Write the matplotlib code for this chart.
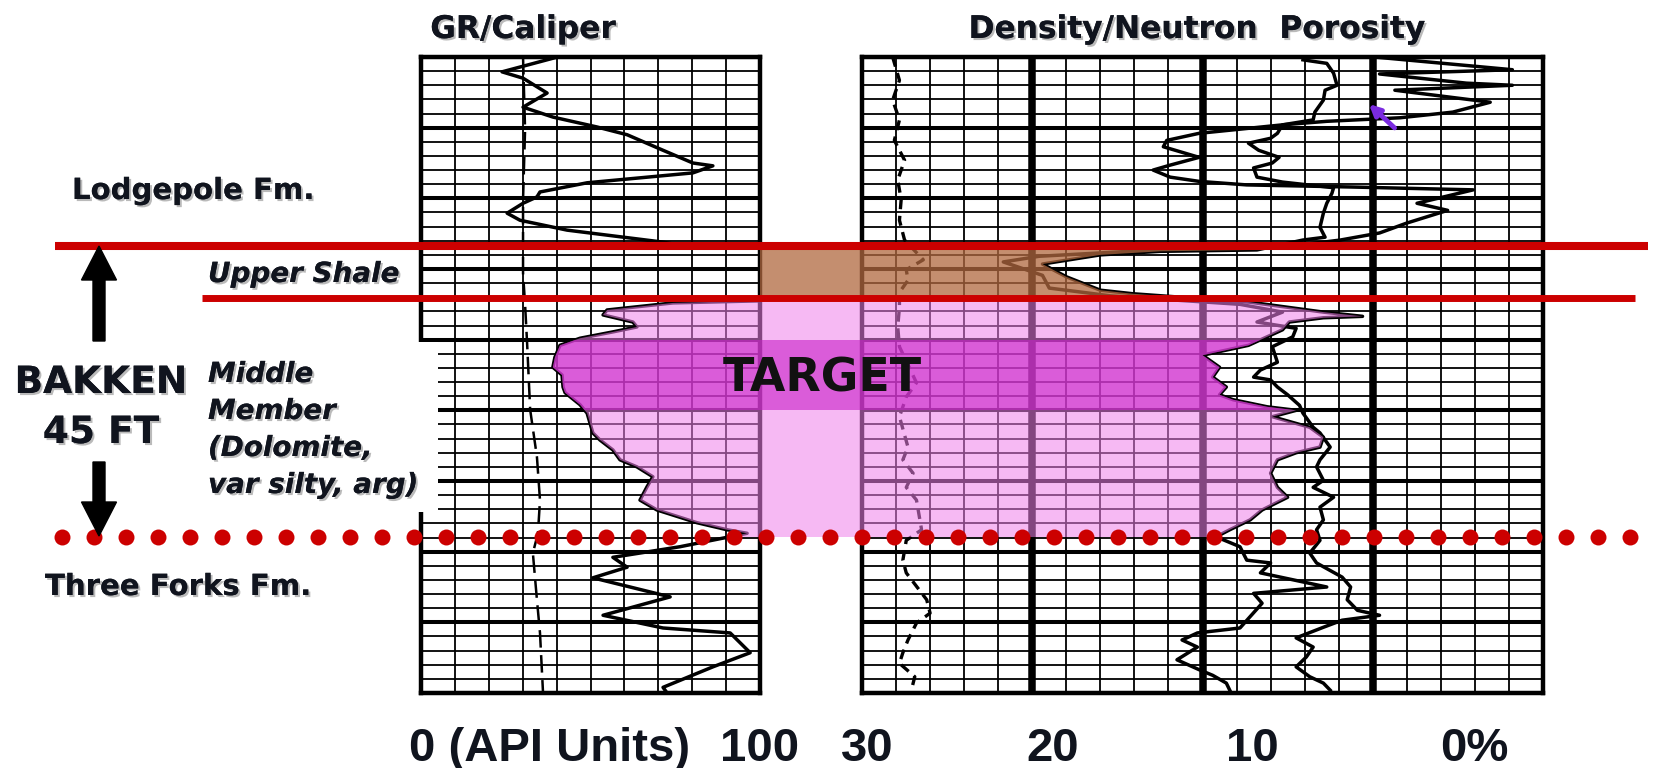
import numpy as np
import matplotlib
matplotlib.use("Agg")
import matplotlib.pyplot as plt
import matplotlib.patheffects as pe
from matplotlib.patches import Polygon, Rectangle, FancyArrow

# depth is in ft below the top of the plotted interval (10 ft per heavy line)

# gamma ray, API (values past 100 run off the track and get clipped)
gr_depth = [0.1, 2.1, 3.0, 5.1, 7.1, 8.5, 9.9, 11.0, 13.2, 15.0, 15.4, 16.4, 17.8, 19.1,
            19.8, 20.7, 22.1, 23.1, 24.5, 26.2, 26.9, 27.3, 34.1, 34.8, 35.8, 36.5, 37.5,
            38.2, 38.9, 39.8, 40.8, 42.5, 43.9, 45.0, 46.7, 47.5, 49.2, 50.4, 53.2, 54.2,
            55.6, 57.0, 58.0, 59.4, 60.8, 62.7, 64.1, 65.9, 66.9, 67.4, 69.3, 70.8, 72.2,
            73.7, 76.4, 79.0, 80.8, 81.5, 84.3, 86.3, 89.2, 90.0]
gr_api = [39.5, 23.9, 30.1, 37.2, 30.1, 38.9, 51.9, 60.8, 71.4, 80.2, 86.1, 80.2, 49.0, 35.1,
          34.2, 30.1, 25.4, 29.2, 43.1, 71.4, 79.1, 135.0, 135.0, 74.3, 54.9, 53.7, 62.5,
          63.7, 56.6, 46.9, 41.0, 39.5, 38.9, 41.6, 41.9, 42.5, 46.9, 49.0, 50.7, 52.8,
          56.6, 58.7, 63.7, 68.4, 66.7, 64.6, 69.6, 81.4, 90.3, 96.2, 76.4, 56.6, 60.8,
          50.7, 73.5, 53.7, 71.4, 91.2, 97.1, 86.1, 71.4, 72.6]

# caliper, drawn on the GR scale
cal_depth = [0.0, 10.3, 20.2, 30.6, 35.0, 40.5, 49.9, 56.6, 62.7, 67.4, 70.2, 76.8, 81.5, 90.0]
cal = [30.1, 30.7, 30.1, 30.1, 30.7, 31.3, 32.2, 34.2, 35.1, 34.5, 33.0, 34.2, 35.1, 36.0]

# dashed correction curve, porosity units
corr_depth = [0.0, 3.3, 6.1, 8.9, 11.8, 14.6, 17.4, 20.2, 23.1, 25.9, 28.7, 30.1, 31.6, 33.3,
              35.4, 38.2, 41.0, 46.1, 48.1, 50.9, 55.2, 57.0, 58.9, 60.9, 62.7, 66.9, 68.4,
              71.2, 73.0, 76.8, 78.7, 80.1, 82.5, 84.3, 85.8, 87.7, 89.6]
corr_por = [28.2, 27.8, 28.2, 27.8, 28.1, 27.5, 27.9, 27.7, 27.8, 27.5, 26.4, 27.4, 27.3, 27.8,
            27.8, 27.9, 27.8, 26.8, 27.4, 27.8, 27.3, 27.6, 27.0, 27.4, 26.8, 26.5, 27.4,
            27.6, 27.4, 26.2, 26.0, 26.8, 27.3, 27.6, 27.8, 26.9, 27.1]

# density porosity, %
dphi_depth = [0.4, 0.9, 2.3, 4.0, 4.7, 6.1, 7.8, 8.9, 9.6, 10.8, 11.5, 12.2, 13.2, 14.2, 15.0,
              15.7, 17.0, 17.7, 18.5, 19.3, 20.7, 22.1, 24.1, 25.5, 25.9, 27.3, 27.5, 28.0,
              29.3, 31.1, 33.0, 33.5, 34.7, 36.1, 36.7, 36.9, 37.5, 38.6, 40.8, 42.2, 43.9,
              45.3, 46.7, 47.8, 48.5, 49.5, 50.0, 50.9, 52.4, 53.8, 55.2, 56.0, 57.0, 58.9,
              60.9, 62.3, 64.1, 65.5, 66.9, 67.9, 69.3, 71.2, 71.6, 73.0, 75.0, 75.9, 77.3,
              80.8, 81.5, 82.5, 83.5, 85.3, 86.7, 87.5, 88.6, 89.6]
dphi = [4.1, 2.7, 2.3, 2.1, 2.8, 2.9, 3.4, 3.5, 5.3, 5.6, 6.0, 7.3, 6.7, 5.5, 5.9,
        7.0, 6.8, 5.3, 2.3, 2.4, 2.7, 2.9, 3.1, 2.8, 4.1, 6.8, 12.5, 16.0,
        19.4, 18.0, 16.0, 14.1, 7.2, 2.9, 0.6, 2.9, 4.9, 5.3, 7.3, 10.0, 9.0,
        9.4, 8.6, 9.0, 8.2, 6.2, 4.5, 5.9, 3.7, 2.9, 3.1, 4.5, 5.6, 6.0,
        5.6, 5.0, 6.5, 7.2, 8.4, 9.2, 7.8, 7.4, 6.0, 6.6, 2.7, 7.0, 6.5,
        7.8, 10.3, 11.2, 10.3, 11.5, 10.2, 9.4, 8.6, 8.4]

# neutron porosity, %
nphi_depth = [0.0, 1.8, 2.4, 3.7, 4.0, 4.7, 6.4, 7.8, 8.6, 9.1, 9.6, 10.8, 11.8, 12.7, 14.2,
              15.3, 16.0, 17.0, 17.6, 18.1, 18.4, 18.8, 20.7, 21.7, 23.5, 24.9, 25.9, 26.8,
              27.5, 28.2, 29.0, 30.9, 32.7, 33.8, 35.0, 36.1, 37.5, 38.4, 39.6, 41.0, 43.2,
              44.3, 45.3, 45.7, 46.7, 47.8, 49.3, 50.4, 52.4, 53.2, 55.2, 57.0, 58.0, 59.9,
              60.9, 62.3, 63.7, 65.5, 66.9, 68.4, 70.2, 71.6, 73.6, 75.0, 76.8, 78.3, 79.0,
              79.7, 80.7, 82.2, 83.5, 84.9, 86.3, 87.7, 88.6, 89.6]
nphi = [-0.1, -8.2, -0.4, -5.5, -8.2, -1.3, -6.9, -4.7, -1.6, 2.7, 5.3, 10.2, 12.1, 12.3, 10.2,
        11.9, 12.9, 11.9, 10.2, 7.4, 1.2, -5.9, -2.6, -4.4, -2.0, -0.4, 1.9, 4.9,
        14.3, 19.6, 21.7, 19.4, 19.0, 15.4, 7.8, 5.3, 6.8, 4.5, 4.7, 5.9, 5.6,
        6.6, 7.0, 6.0, 5.6, 5.0, 4.3, 4.1, 3.5, 3.1, 2.5, 3.1, 3.3, 2.9,
        3.5, 2.3, 3.1, 2.9, 3.3, 3.1, 3.7, 3.3, 1.8, 1.3, 1.5, 0.9, -0.4,
        1.8, 2.9, 4.5, 3.5, 3.9, 4.5, 3.7, 2.9, 2.5]

# formation picks, ft
shale_top = 26.75
middle_top = 34.17
three_forks_top = 67.93
target_top, target_base = 40.0, 50.0

W, H = 1653, 768
TOP, BOT = 57, 693
INK = "#10141e"

fig = plt.figure(figsize=(W / 100, H / 100), dpi=100)
fig.patch.set_facecolor("white")


def track_axes(x0, x1):
    return fig.add_axes([x0 / W, 1 - BOT / H, (x1 - x0) / W, (BOT - TOP) / H])


def style_track(ax, xlim, minor_x, major_x):
    ax.set_xlim(*xlim)
    ax.set_ylim(90, 0)
    ax.set_xticks(major_x)
    ax.set_xticks(minor_x, minor=True)
    ax.set_yticks(np.arange(0, 91, 10))
    ax.set_yticks(np.arange(0, 91, 2), minor=True)
    ax.grid(which="minor", color="k", lw=1.3)
    ax.grid(which="major", axis="y", color="k", lw=2.9)
    ax.grid(which="major", axis="x", color="k", lw=5.4 if len(major_x) else 0)
    ax.tick_params(which="both", length=0, labelbottom=False, labelleft=False)
    ax.set_axisbelow(True)
    for s in ax.spines.values():
        s.set_linewidth(3.2)


ax_gr = track_axes(421, 760)
style_track(ax_gr, (0, 100), np.arange(0, 101, 10), [])
ax_gr.plot(gr_api, gr_depth, color="k", lw=2.5)
ax_gr.plot(cal, cal_depth, color="k", lw=1.8, dashes=(7, 3))

ax_dn = track_axes(862, 1543)
style_track(ax_dn, (30, -10), np.arange(-10, 31, 2), [0, 10, 20])
ax_dn.plot(corr_por, corr_depth, color="k", lw=2.4, dashes=(3, 2))
ax_dn.plot(dphi, dphi_depth, color="k", lw=2.5)
ax_dn.plot(nphi, nphi_depth, color="k", lw=2.5)
ax_dn.annotate("", xy=(0.34, 6.4), xytext=(-1.4, 10.3),
               arrowprops=dict(arrowstyle="-|>", color="#7b2be0", lw=3.5, mutation_scale=16))

# pixel-space overlay for fills, picks and annotation
ax_ov = fig.add_axes([0, 0, 1, 1], zorder=10)
ax_ov.set_xlim(0, W)
ax_ov.set_ylim(H, 0)
ax_ov.axis("off")


def to_px(ax, x, y):
    pts = ax.transData.transform(np.column_stack([x, y]))
    return ax_ov.transData.inverted().transform(pts)


def y_of(d):
    return to_px(ax_gr, [0], [d])[0, 1]


def band(d0, d1):
    y0, y1 = y_of(d0), y_of(d1)
    return Rectangle((0, y0), W, y1 - y0, transform=ax_ov.transData)


gr_xy = to_px(ax_gr, gr_api, gr_depth)
dphi_xy = to_px(ax_dn, dphi, dphi_depth)
x_gr100 = to_px(ax_gr, [100], [0])[0, 0]

# reservoir shading between GR and density porosity
pay = np.vstack([gr_xy, dphi_xy[::-1]])
for (d0, d1), fc, a in [((middle_top, three_forks_top), "#f080ea", 0.55),
                        ((target_top, target_base), "#c81ec8", 0.6)]:
    poly = Polygon(pay, closed=True, fc=fc, alpha=a, ec="none", zorder=1)
    ax_ov.add_patch(poly)
    poly.set_clip_path(band(d0, d1))

shale = ax_ov.fill_betweenx(dphi_xy[:, 1], x_gr100, dphi_xy[:, 0],
                            fc="#b0683f", alpha=0.75, lw=0, zorder=1)
shale.set_clip_path(band(shale_top, middle_top))

# label box over the GR track
ax_ov.add_patch(Rectangle((190, 342), 248, 170, fc="white", ec="none", zorder=2))

# formation tops
ax_ov.hlines(y_of(shale_top), 55, 1648, color="#cc0000", lw=5.8, zorder=3)
ax_ov.hlines(y_of(middle_top), 202, 1635, color="#cc0000", lw=5.0, zorder=3)
dots_x = np.arange(62, 1650, 32)
ax_ov.plot(dots_x, np.full(len(dots_x), y_of(three_forks_top)), "o", ms=11.5,
           color="#cc0000", mec="none", zorder=3)

# thickness arrows
for y0, dy in [(341, -95), (462, 74)]:
    ax_ov.add_patch(FancyArrow(99, y0, 0, dy, width=12, head_width=35, head_length=34,
                               length_includes_head=True, color="k", zorder=4))

shadow = [pe.withSimplePatchShadow(offset=(1.5, -1.5), shadow_rgbFace="#777777", alpha=0.5),
          pe.Normal()]
bold = dict(color=INK, fontweight="bold", path_effects=shadow, zorder=5)

ax_ov.text(523, 38, "GR/Caliper", ha="center", va="baseline", fontsize=22.5, **bold)
ax_ov.text(1197, 38, "Density/Neutron  Porosity", ha="center", va="baseline",
           fontsize=22.5, **bold)

ax_ov.text(72, 199, "Lodgepole Fm.", ha="left", va="baseline", fontsize=21, **bold)
ax_ov.text(45, 595, "Three Forks Fm.", ha="left", va="baseline", fontsize=21, **bold)
ax_ov.text(101, 393, "BAKKEN", ha="center", va="baseline", fontsize=27, **bold)
ax_ov.text(101, 443, "45 FT", ha="center", va="baseline", fontsize=27, **bold)

ax_ov.text(208, 282, "Upper Shale", ha="left", va="baseline", fontsize=20,
           fontstyle="italic", **bold)
for i, line in enumerate(["Middle", "Member", "(Dolomite,", "var silty, arg)"]):
    ax_ov.text(208, 382 + 37 * i, line, ha="left", va="baseline", fontsize=20,
               fontstyle="italic", **bold)

ax_ov.text(822, 392, "TARGET", ha="center", va="baseline", fontsize=33,
           color="#111111", fontweight="bold", zorder=5)

# scale captions
scale = dict(color=INK, fontweight="bold", fontsize=34, family="Liberation Sans",
             va="baseline", zorder=5)
ax_ov.text(409, 761, "0 (API Units)", ha="left", **scale)
for x, s in [(760, "100"), (867, "30"), (1053, "20"), (1252, "10"), (1474, "0%")]:
    ax_ov.text(x, 761, s, ha="center", **scale)

fig.savefig("out.png", dpi=100, facecolor="white")
